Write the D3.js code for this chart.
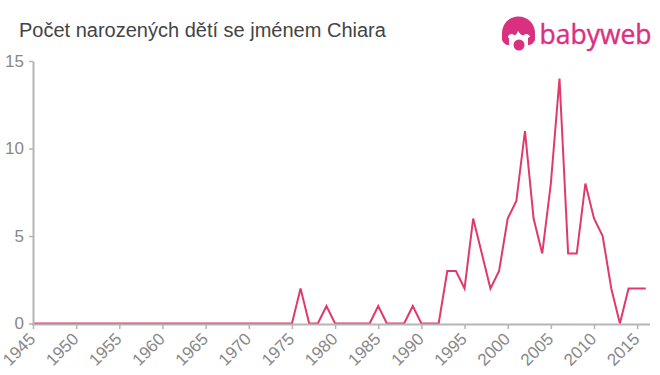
<!DOCTYPE html>
<html>
<head>
<meta charset="utf-8">
<script src="https://cdn.jsdelivr.net/npm/d3@7"></script>
<style>
  html, body { margin: 0; padding: 0; background: #fff; }
  svg { display: block; }
  text { font-family: "Liberation Sans", Arial, sans-serif; }
</style>
</head>
<body>
<div id="chart"></div>
<script>
const chartTitle = 'Počet narozených dětí se jménem Chiara';
const years = [
  1945, 1946, 1947, 1948, 1949, 1950, 1951, 1952, 1953, 1954, 1955, 1956,
  1957, 1958, 1959, 1960, 1961, 1962, 1963, 1964, 1965, 1966, 1967, 1968,
  1969, 1970, 1971, 1972, 1973, 1974, 1975, 1976, 1977, 1978, 1979, 1980,
  1981, 1982, 1983, 1984, 1985, 1986, 1987, 1988, 1989, 1990, 1991, 1992,
  1993, 1994, 1995, 1996, 1997, 1998, 1999, 2000, 2001, 2002, 2003, 2004,
  2005, 2006, 2007, 2008, 2009, 2010, 2011, 2012, 2013, 2014, 2015, 2016
];
const births = [
  0, 0, 0, 0, 0, 0, 0, 0, 0, 0, 0, 0,
  0, 0, 0, 0, 0, 0, 0, 0, 0, 0, 0, 0,
  0, 0, 0, 0, 0, 0, 0, 2, 0, 0, 1, 0,
  0, 0, 0, 0, 1, 0, 0, 0, 1, 0, 0, 0,
  3, 3, 2, 6, 4, 2, 3, 6, 7, 11, 6, 4,
  8, 14, 4, 4, 8, 6, 5, 2, 0, 2, 2, 2
];
const xTicks = [1945, 1950, 1955, 1960, 1965, 1970, 1975, 1980, 1985, 1990, 1995, 2000, 2005, 2010, 2015];
const yTicks = [0, 5, 10, 15];

const width = 660, height = 375;
const margin = { top: 61, right: 14, bottom: 51, left: 33 };
const axisColor = '#b5b5b5';

const svg = d3.select('#chart').append('svg')
  .attr('width', width)
  .attr('height', height);

// 2016 sits a little before the end of the axis line
const x = d3.scaleLinear().domain([1945, 2016]).range([margin.left, 645.8]);
const y = d3.scaleLinear().domain([0, 15]).range([height - margin.bottom - 0.5, margin.top]);

svg.append('text')
  .attr('x', 19)
  .attr('y', 37)
  .attr('font-size', 20)
  .attr('fill', '#444')
  .text(chartTitle);

const line = d3.line()
  .x((d, i) => x(years[i]))
  .y(d => y(d));

svg.append('path')
  .datum(births)
  .attr('fill', 'none')
  .attr('stroke', '#e0396b')
  .attr('stroke-width', 2)
  .attr('d', line);

const yAxis = svg.append('g')
  .attr('transform', `translate(${margin.left},0)`)
  .call(d3.axisLeft(y).tickValues(yTicks).tickSize(4).tickPadding(5).tickSizeOuter(0));

// axis drawn over the line so the zero stretch only shows as a thin pink edge
const xAxis = svg.append('g')
  .attr('transform', `translate(0,${height - margin.bottom})`)
  .call(d3.axisBottom(x).tickValues(xTicks).tickFormat(d3.format('d')).tickSize(5).tickSizeOuter(0));

xAxis.select('.domain').attr('d', `M${margin.left - 1},0.5H650`);

[xAxis, yAxis].forEach(axis => {
  axis.select('.domain').attr('stroke', axisColor).attr('stroke-width', 2);
  axis.selectAll('.tick line').attr('stroke', axisColor).attr('stroke-width', 1.5);
  axis.selectAll('text').attr('fill', '#888').attr('font-size', 17).attr('font-family', '"Liberation Sans", Arial, sans-serif');
});

xAxis.selectAll('text')
  .attr('text-anchor', 'end')
  .attr('x', 0)
  .attr('y', 0)
  .attr('dy', 0)
  .attr('transform', 'translate(3,16) rotate(-45)');

// logo
const logoColor = '#d9307f';
const logo = svg.append('g');
logo.append('circle').attr('cx', 518.5).attr('cy', 33).attr('r', 16.5).attr('fill', logoColor);
logo.append('path')
  .attr('d', 'M507,53 L507,39 C508,34 512,33 514,35 C516,36 517,33 518,31 C520,34 522,36 524,35 C526,33 530,34 531,39 L531,53 Z')
  .attr('fill', '#fff');
logo.append('path')
  .attr('d', 'M502,33 L502,40 C504,44 506,45 509,45 L509,38 Z M535,33 L535,40 C533,44 531,45 528,45 L528,38 Z')
  .attr('fill', logoColor);
logo.append('circle').attr('cx', 519).attr('cy', 45).attr('r', 5.5).attr('fill', logoColor);
logo.append('text')
  .attr('x', 539.5)
  .attr('y', 43.5)
  .attr('font-size', 27)
  .attr('textLength', 112)
  .attr('lengthAdjust', 'spacingAndGlyphs')
  .attr('fill', logoColor)
  .attr('stroke', logoColor)
  .attr('stroke-width', 0.4)
  .style('font-family', '"Open Sans", Lato, sans-serif')
  .text('babyweb');
</script>
</body>
</html>
